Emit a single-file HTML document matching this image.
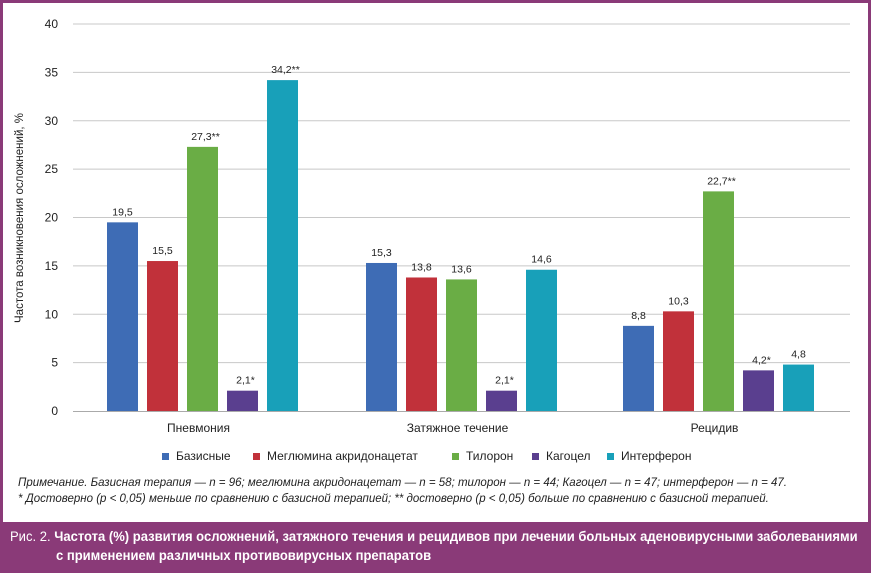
<!DOCTYPE html>
<html><head><meta charset="utf-8"><style>
body{margin:0;width:871px;height:573px;overflow:hidden;background:#fff;font-family:"Liberation Sans","DejaVu Sans",sans-serif}
#frame{position:absolute;left:0;top:0;width:865px;height:567px;border:3px solid #8a3a78;border-bottom:none}
#cap{position:absolute;left:0;top:522px;width:871px;height:51px;background:#8a3a78;color:#fff;font-size:14px;font-family:"Liberation Sans",sans-serif}
#cap div{white-space:nowrap;transform-origin:0 0;transform:scaleX(0.93)}
</style></head><body>
<div id="frame"></div>
<svg id="chart" width="871" height="520" style="position:absolute;left:0;top:0"></svg>
<div id="cap">
<div style="position:absolute;left:10px;top:6px">Рис. 2. <b>Частота (%) развития осложнений, затяжного течения и рецидивов при лечении больных аденовирусными заболеваниями</b></div>
<div style="position:absolute;left:56px;top:25px"><b>с применением различных противовирусных препаратов</b></div>
</div>
<script>
const categories=["Пневмония","Затяжное течение","Рецидив"];
const seriesNames=["Базисные","Меглюмина акридонацетат","Тилорон","Кагоцел","Интерферон"];
const colors=["#3e6cb5","#c1313a","#6aad45","#5a3f8f","#18a0b9"];
const s0=[19.5,15.3,8.8];
const s1=[15.5,13.8,10.3];
const s2=[27.3,13.6,22.7];
const s3=[2.1,2.1,4.2];
const s4=[34.2,14.6,4.8];
const labels=[["19,5","15,3","8,8"],["15,5","13,8","10,3"],["27,3**","13,6","22,7**"],["2,1*","2,1*","4,2*"],["34,2**","14,6","4,8"]];
const ticks=[0,5,10,15,20,25,30,35,40];
const series=[s0,s1,s2,s3,s4];
const svg=document.getElementById('chart');
const NS="http://www.w3.org/2000/svg";
const y0=411,yTop=24,vmax=40;
const y=v=>y0-(y0-yTop)*v/vmax;
const groupStart=[107,366,623],step=40,bw=31;
const gx=(g,s)=>groupStart[g]+s*step;
function mk(t,a){const e=document.createElementNS(NS,t);for(const k in a)e.setAttribute(k,a[k]);svg.appendChild(e);return e;}
ticks.forEach(t=>{
 if(t>0){const l=mk('line',{x1:73,x2:850,y1:y(t),y2:y(t),stroke:'#c8c8c8','stroke-width':1});
 
 }
 const tx=mk('text',{x:58,y:y(t)+4,'text-anchor':'end','font-size':12,fill:'#222'});tx.textContent=t;
 
 
});
const ax=mk('line',{x1:73,x2:850,y1:y0+0.5,y2:y0+0.5,stroke:'#aaa'});


const yt=mk('text',{transform:'translate(23,218) rotate(-90)','text-anchor':'middle','font-size':11.5,fill:'#222'});
yt.textContent='Частота возникновения осложнений, %';


series.forEach((vals,s)=>vals.forEach((v,g)=>{
 const r=mk('rect',{x:gx(g,s),y:y(v),width:bw,height:y0-y(v),fill:colors[s]});
 
 
 const t=mk('text',{x:gx(g,s)+bw/2+(labels[s][g].includes('*')?3:0),y:y(v)-7,'text-anchor':'middle','font-size':10.5,fill:'#222'});
 t.textContent=labels[s][g];
 
 
}));
categories.forEach((c,g)=>{
 const t=mk('text',{x:gx(g,2)+bw/2-4,y:432,'text-anchor':'middle','font-size':12,fill:'#222'});t.textContent=c;
 
 
});
const legX=[162,253,452,532,607];
seriesNames.forEach((n,i)=>{
 const r=mk('rect',{x:legX[i],y:453,width:7,height:7,fill:colors[i]});
 
 
 const t=mk('text',{x:legX[i]+14,y:460,'font-size':12,fill:'#222'});t.textContent=n;
 
 
});
const n1=mk('text',{x:18,y:486,'font-size':11.5,'font-style':'italic',fill:'#222'});
n1.textContent='Примечание. Базисная терапия — n = 96; меглюмина акридонацетат — n = 58; тилорон — n = 44; Кагоцел — n = 47; интерферон — n = 47.';


const n2=mk('text',{x:18,y:502,'font-size':11.5,'font-style':'italic',fill:'#222'});
n2.textContent='* Достоверно (p < 0,05) меньше по сравнению с базисной терапией; ** достоверно (p < 0,05) больше по сравнению с базисной терапией.';


</script>
</body></html>
